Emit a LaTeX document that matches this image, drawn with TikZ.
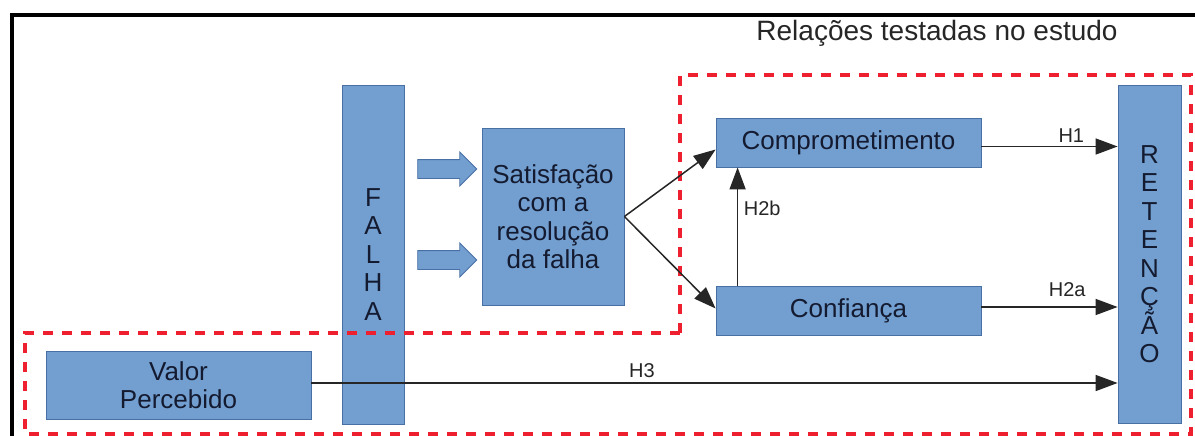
\documentclass[tikz,border=0pt]{standalone}
\usepackage{fontspec}
\setmainfont{Liberation Sans}
\usetikzlibrary{arrows.meta,shapes.arrows}
\definecolor{boxblue}{RGB}{114,159,207}
\definecolor{boxline}{RGB}{72,112,165}
\definecolor{boxtext}{RGB}{20,26,48}
\definecolor{dashred}{RGB}{238,32,48}

\begin{document}
\begin{tikzpicture}[
		x=1pt, y=-1pt,
		every node/.style={font=\fontsize{26}{28.5}\selectfont, text=boxtext},
		block/.style={rectangle, draw=boxline, line width=0.8pt, fill=boxblue, inner sep=0pt, align=center},
		fat arrow/.style={single arrow, draw=boxline, line width=0.8pt, fill=boxblue, minimum height=59pt, inner xsep=0pt, inner ysep=9pt, single arrow head extend=7.5pt},
		conn/.style={line width=1.5pt, draw=black!85, -{Triangle[length=22pt, width=16pt]}},
		hlabel/.style={font=\fontsize{20}{22}\selectfont, text=black!85, inner sep=1.5pt}
	]
  \useasboundingbox (0,0) rectangle (1195,436);
  \draw[line width=4pt] (12,436) -- (12,15) -- (1195,15);
  \node (titulo) [font=\fontsize{28}{30}\selectfont, text=black!85] at (937,33) {Relações testadas no estudo};

  \node (falha) [block, minimum width=62pt, minimum height=339pt] at (373,254.5) {F\\A\\L\\H\\A};
  \node (seta1) [fat arrow] at (442.5,169) {};
  \node (seta2) [fat arrow] at (442.5,260) {};
  \node (satisf) [block, minimum width=142pt, minimum height=177pt] at (553,216.5) {Satisfação\\com a\\resolução\\da falha};
  \node (compr) [block, minimum width=265pt, minimum height=49pt] at (848.5,142.5) {Comprometimento};
  \node (conf) [block, minimum width=265pt, minimum height=49pt] at (848.5,310.5) {Confiança};
  \node (ret) [block, minimum width=63pt, minimum height=338pt] at (1149.5,254) {R\\E\\T\\E\\N\\Ç\\Ã\\O};
  \node (valor) [block, minimum width=265pt, minimum height=68pt] at (178.5,385) {Valor\\Percebido};

  \draw[dashred, line width=4.5pt, dash pattern=on 10pt off 9pt] (680,333) -- (680,75) -- (1191,75) -- (1191,434) -- (25,434) -- (25,333) -- cycle;

  \draw[conn] (satisf.east) -- ([yshift=-7pt]compr.west);
  \draw[conn] (satisf.east) -- ([yshift=2pt]conf.west);
  \draw[conn] ([xshift=22pt]conf.north west) -- ([xshift=22pt]compr.south west) node[hlabel, pos=0.65, right=4pt] {H2b};
  \draw[conn] ([yshift=-4pt]compr.east) -- ([yshift=-4pt]compr.east -| ret.west) node[hlabel, pos=0.66, above=2pt] {H1};
  \draw[conn] ([yshift=3.5pt]conf.east) -- ([yshift=3.5pt]conf.east -| ret.west) node[hlabel, pos=0.63, above=8pt] {H2a};
  \draw[conn] ([yshift=2pt]valor.east) -- ([yshift=2pt]valor.east -| ret.west) node[hlabel, pos=0.41, above=3pt] {H3};
\end{tikzpicture}
\end{document}
